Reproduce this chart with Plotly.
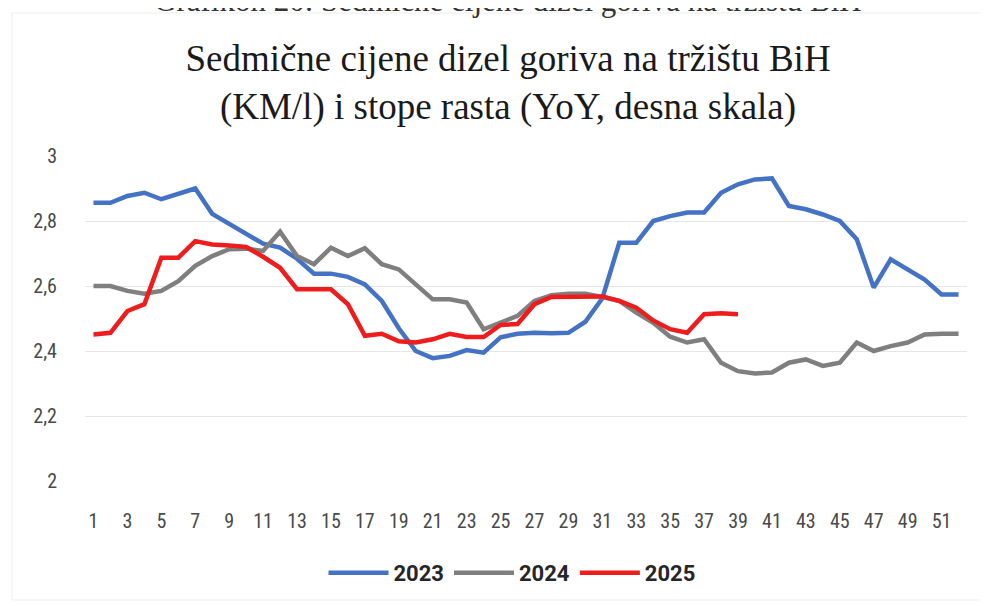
import plotly.graph_objects as go

weeks = list(range(1, 53))
tick_weeks = list(range(1, 52, 2))

y2023 = [2.856, 2.856, 2.877, 2.887, 2.867, 2.882, 2.900, 2.822, 2.792, 2.760, 2.730, 2.718, 2.684,
         2.638, 2.638, 2.628, 2.605, 2.554, 2.470, 2.400, 2.378, 2.385, 2.403, 2.395, 2.442, 2.453,
         2.456, 2.455, 2.456, 2.490, 2.562, 2.733, 2.733, 2.800, 2.815, 2.826, 2.826, 2.887, 2.913,
         2.928, 2.931, 2.846, 2.836, 2.820, 2.800, 2.744, 2.595, 2.682, 2.651, 2.620, 2.574, 2.574]
y2024 = [2.600, 2.600, 2.585, 2.576, 2.585, 2.615, 2.662, 2.692, 2.713, 2.715, 2.708, 2.767, 2.692,
         2.667, 2.718, 2.692, 2.716, 2.667, 2.651, 2.605, 2.559, 2.559, 2.549, 2.467, 2.487, 2.508,
         2.554, 2.572, 2.576, 2.576, 2.566, 2.554, 2.518, 2.487, 2.444, 2.426, 2.436, 2.364, 2.338,
         2.331, 2.334, 2.364, 2.374, 2.354, 2.364, 2.426, 2.400, 2.415, 2.426, 2.451, 2.453, 2.453]
y2025 = [2.451, 2.456, 2.523, 2.544, 2.687, 2.687, 2.738, 2.728, 2.725, 2.720, 2.690, 2.656, 2.590,
         2.590, 2.590, 2.544, 2.447, 2.453, 2.430, 2.426, 2.436, 2.453, 2.443, 2.443, 2.480, 2.483,
         2.544, 2.566, 2.566, 2.566, 2.568, 2.554, 2.533, 2.494, 2.467, 2.456, 2.513, 2.516, 2.513]

series = [("2023", y2023, "#4472C4"), ("2024", y2024, "#7F7F7F"), ("2025", y2025, "#EE1C1C")]

fig = go.Figure()
for name, ys, col in series:
    fig.add_trace(go.Scatter(x=weeks[:len(ys)], y=ys, name=name, mode="lines",
                             line=dict(color=col, width=4.5)))

sans = "Liberation Sans Narrow, Roboto Condensed, Roboto, sans-serif"
serif = "Liberation Serif, Times New Roman, serif"
tick_font = dict(family=sans, size=20, color="#4a4a4a")

W, H = 980, 596
L, R, T, B = 77, 21, 148, 123
pw, ph = W - L - R, H - T - B

fig.update_layout(
    width=W, height=H,
    margin=dict(l=L, r=R, t=T, b=B, autoexpand=False),
    paper_bgcolor="white", plot_bgcolor="white",
    separators=", ",
    title=dict(text="Sedmične cijene dizel goriva na tržištu BiH<br>(KM/l) i stope rasta (YoY, desna skala)",
               x=500 / W, xanchor="center", y=1 - 63 / H, yanchor="middle", yref="container",
               font=dict(family=serif, size=37, color="#1a1a1a")),
    xaxis=dict(range=[0.5, 52.5], tickvals=tick_weeks, ticktext=[str(t) for t in tick_weeks],
               showgrid=False, zeroline=False, showline=False, ticks="", tickfont=tick_font,
               tickangle=0, ticklabelstandoff=26),
    yaxis=dict(range=[2, 3], dtick=0.2, showgrid=True, gridcolor="#E6E6E6", gridwidth=1,
               zeroline=False, showline=False, ticks="", tickfont=tick_font, ticklabelstandoff=27),
    legend=dict(orientation="h", x=(504 - L) / pw, xanchor="center", y=(ph - (565 - T)) / ph,
                yanchor="middle",
                font=dict(family="Roboto, sans-serif", size=22, color="#262626", weight="bold"),
                itemwidth=60, tracegroupgap=0),
    showlegend=True,
)

fig.add_annotation(text="Grafikon 20: Sedmične cijene dizel goriva na tržištu BiH",
                   xref="paper", yref="paper", x=(500 - L) / pw, y=(ph + T + 7) / ph,
                   xanchor="center", yanchor="middle", showarrow=False,
                   font=dict(family=serif, size=31, color="#333333"))

fig.add_shape(type="rect", xref="paper", yref="paper",
              x0=(4 - L) / pw, x1=(977 - L) / pw, y0=(ph + T - 592) / ph, y1=(ph + T - 5) / ph,
              line=dict(color="#EDEDED", width=1), fillcolor="rgba(0,0,0,0)", layer="below")

fig.write_html("out.html")
